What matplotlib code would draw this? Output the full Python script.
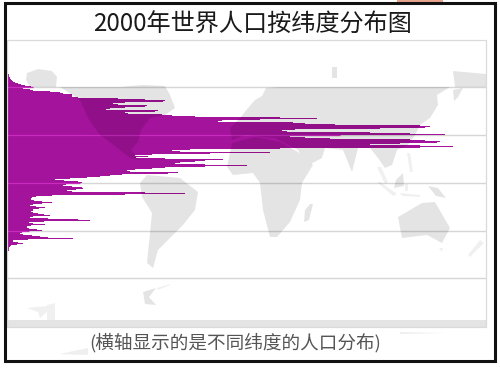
import numpy as np
import matplotlib
matplotlib.use("Agg")
import matplotlib.pyplot as plt
from matplotlib.patches import PathPatch, Rectangle
from matplotlib.path import Path

plt.rcParams['font.family'] = ['Noto Sans CJK SC', 'DejaVu Sans']

TITLE = "2000年世界人口按纬度分布图"
NOTE = "(横轴显示的是不同纬度的人口分布)"
PURPLE = "#A3139B"

first_row = 72
pop_edge = [
    8, 8, 9, 9, 9, 10, 10, 11, 12, 13, 15, 18, 21, 25, 31, 33,      # 72-87
    23, 30, 33, 50, 60, 63, 72, 72, 72, 78, 118, 145, 165, 163, 125, 113,  # 88-103
    118, 147, 145, 125, 110, 106, 158, 155, 125, 128, 162, 172, 195, 280, 317, 260,  # 104-119
    222, 218, 293, 305, 335, 420, 430, 425, 380, 295, 282, 287, 370, 410, 445, 340,  # 120-135
    290, 305, 330, 410, 425, 440, 437, 400, 370, 420, 453, 420, 280, 190, 172, 180,  # 136-151
    270, 210, 152, 135, 148, 136, 165, 223, 205, 195, 180, 175, 205, 247, 205, 165,  # 152-167
    152, 135, 127, 130, 178, 168, 122, 110, 100, 87, 70, 55, 64, 78, 82, 80,  # 168-183
    66, 63, 72, 82, 83, 76, 67, 72, 145, 185, 125, 52, 36, 32, 31, 31,  # 184-199
    34, 42, 52, 42, 33, 30, 36, 45, 39, 33, 33, 31, 33, 38, 44, 50,  # 200-215
    33, 30, 48, 78, 90, 44, 29, 33, 45, 31, 27, 27, 29, 37, 42, 29,  # 216-231
    22, 20, 23, 32, 40, 48, 73, 28, 13, 13, 18, 23, 17, 11, 10, 9,  # 232-247
    9, 9, 9, 8, 8, 8, 8, 8, 8, 8,  # 248-257
]
grid_rows = [87, 135, 183, 231, 278]

land = {
    "arctic": [(27, 73), (38, 69), (52, 71), (57, 77), (56, 87), (30, 87), (26, 80)],
    "north_america": [(60, 87), (120, 87), (143, 85), (165, 86), (170, 95), (175, 108),
                      (165, 115), (150, 118), (141, 130), (138, 142), (131, 150), (140, 160),
                      (130, 158), (115, 146), (100, 135), (88, 118), (80, 100)],
    "europe_asia": [(240, 118), (248, 108), (255, 100), (262, 96), (266, 88), (278, 87),
                    (450, 87), (437, 95), (438, 105), (430, 118), (420, 125), (415, 135),
                    (408, 145), (397, 150), (392, 165), (385, 168), (378, 158), (370, 148),
                    (358, 148), (352, 172), (343, 150), (325, 148), (322, 158),
                    (307, 166), (298, 150), (275, 138), (245, 135), (232, 140), (230, 128)],
    "far_north": [(453, 71), (486, 74), (486, 87), (455, 87)],
    "north_isle": [(332, 67), (337, 67), (337, 78), (332, 78)],
    "kamchatka": [(453, 90), (463, 88), (458, 97), (454, 101)],
    "africa": [(232, 143), (255, 137), (280, 142), (298, 152), (313, 165), (302, 183),
               (300, 200), (290, 222), (277, 237), (270, 237), (263, 210), (260, 183),
               (253, 173), (233, 175), (227, 167)],
    "madagascar": [(310, 204), (313, 204), (309, 220), (304, 222), (305, 210)],
    "south_america": [(147, 175), (180, 178), (198, 192), (195, 210), (183, 225), (170, 238),
                      (158, 250), (153, 268), (147, 263), (150, 233), (152, 213), (142, 197),
                      (140, 183)],
    "australia": [(398, 217), (422, 203), (435, 202), (450, 228), (442, 243), (427, 235), (402, 238)],
    "borneo": [(396, 180), (403, 173), (404, 186), (394, 188)],
    "new_guinea": [(428, 186), (438, 188), (446, 198), (436, 196)],
    "south_tip": [(143, 292), (156, 288), (149, 297), (156, 305), (145, 304)],
    "antarctica": [(7, 320), (486, 320), (486, 327), (7, 327)],
}
pale_land = {
    "tasmania": [(439, 248), (443, 248), (442, 252)],
    "new_zealand": [(480, 240), (484, 243), (470, 257), (468, 255)],
    "malaya": [(377, 167), (381, 167), (388, 182), (385, 184)],
    "sumatra": [(377, 182), (380, 182), (397, 194), (393, 196)],
    "java": [(400, 193), (420, 195), (420, 197), (402, 196)],
    "sulawesi": [(405, 184), (408, 184), (408, 191), (405, 191)],
    "philippines": [(407, 153), (410, 153), (413, 172), (410, 172)],
    "south_streak": [(157, 288), (170, 284), (170, 285), (158, 290)],
    "far_patch": [(47, 305), (55, 303), (55, 320), (47, 320)],
    "far_streak": [(27, 308), (47, 306), (47, 312), (40, 318), (38, 312)],
}
faint_marks = [
    [(60, 354), (88, 348), (88, 355)],
    [(400, 332), (445, 333), (400, 334)],
]


def land_patch(shapes, alpha):
    verts, codes = [], []
    for pts in shapes.values():
        verts += list(pts) + [pts[0]]
        codes += [Path.MOVETO] + [Path.LINETO] * (len(pts) - 1) + [Path.CLOSEPOLY]
    return PathPatch(Path(verts, codes), fc="black", ec="none", alpha=alpha, zorder=3)


fig = plt.figure(figsize=(5, 3.75), dpi=100, facecolor="white")
ax = fig.add_axes([0, 0, 1, 1])
ax.set_xlim(0, 500)
ax.set_ylim(375, 0)
ax.axis("off")

# grid, then the population bars
ax.hlines(grid_rows, 7, 486, color="#D6D6D6", lw=1.0, zorder=1)
rows = first_row + np.arange(len(pop_edge))
edges = np.array(pop_edge, dtype=float)
ax.barh(rows, edges - 7, left=7, height=1.0, color=PURPLE, lw=0, zorder=2)
for g in grid_rows:
    i = g - first_row
    if 0 <= i < len(edges) and edges[i] > 9:
        ax.hlines(g, 7, edges[i], color="#C92ABF", lw=0.9, zorder=2.5)

# land as a translucent layer, so that it darkens the purple beneath it
ax.add_patch(land_patch(land, 0.105))
ax.add_patch(land_patch(pale_land, 0.06))
for pts in faint_marks:
    ax.fill(*zip(*pts), color="#EFEFEF", lw=0, zorder=1)

# panel and outer frame
ax.add_patch(Rectangle((7, 40), 479, 287, fc="none", ec="#DADADA", lw=0.9, zorder=4))
ax.add_patch(Rectangle((4.5, 3), 490, 357.5, fc="none", ec="#111111", lw=2.2, zorder=5))
ax.add_patch(Rectangle((397, 0), 46, 1.5, fc="#E8A58C", ec="none", zorder=4))

ax.text(253, 24.5, TITLE, ha="center", va="center", fontsize=17.4, color="#1A1A1A")
ax.text(235, 343, NOTE, ha="center", va="center", fontsize=13.4, color="#555555")

fig.savefig("out.png", dpi=100, facecolor="white")
